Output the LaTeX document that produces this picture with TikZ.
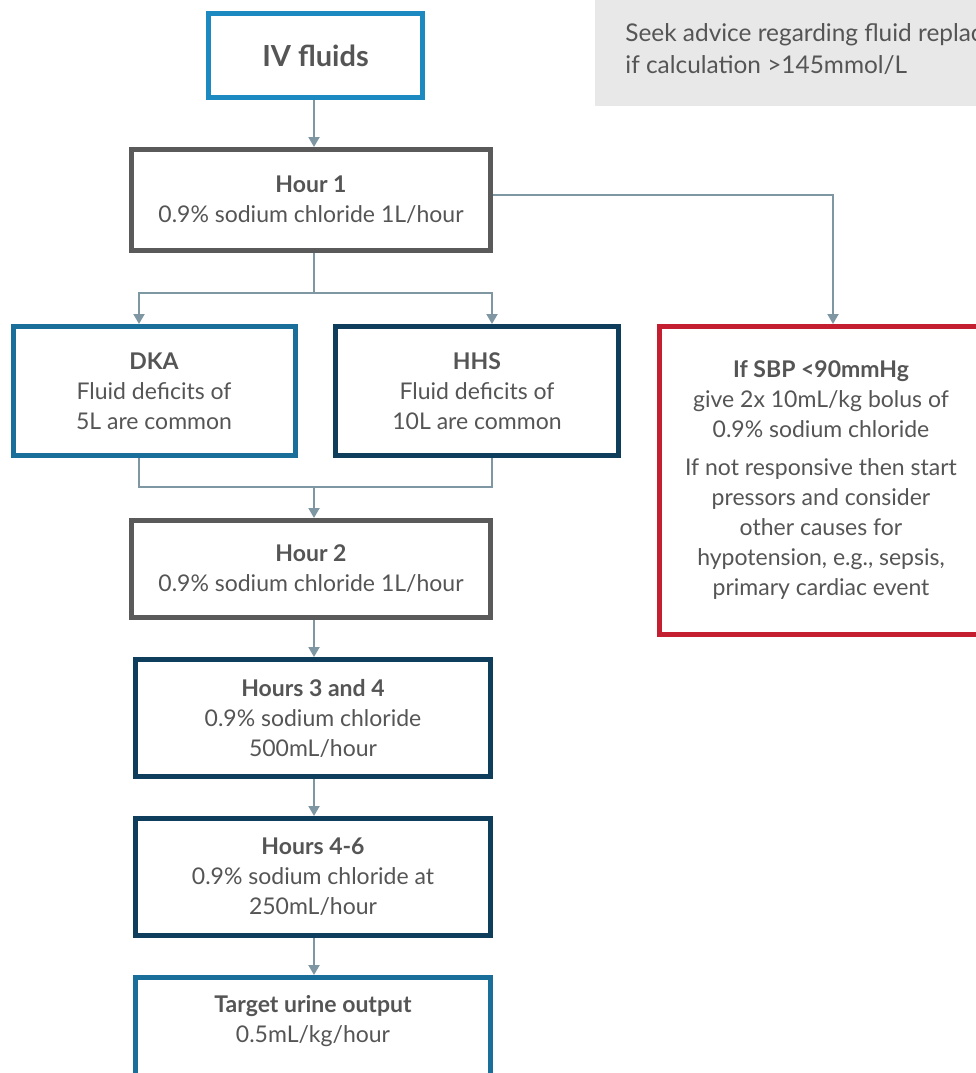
\documentclass[tikz,border=0pt]{standalone}
\usepackage{fontspec}
\setmainfont{Lato}
\usetikzlibrary{arrows.meta}
\definecolor{txt}{HTML}{555555}
\definecolor{conn}{HTML}{7F97A3}
\definecolor{bblue}{HTML}{1C8AC1}
\definecolor{mblue}{HTML}{1A6E9A}
\definecolor{navy}{HTML}{0F3D5C}
\definecolor{dgrey}{HTML}{5A5A5A}
\definecolor{redb}{HTML}{C41F30}
\definecolor{lgrey}{HTML}{E8E8E8}
\begin{document}
\begin{tikzpicture}[x=0.5pt,y=-0.5pt,
  box/.style={draw, line width=2.5pt, fill=white, align=center, text=txt, inner sep=0pt,
    font=\fontsize{11.5}{15}\selectfont},
  plain/.style={align=center, text=txt, inner sep=0pt, font=\fontsize{11.5}{15}\selectfont},
  link/.style={draw=conn, line width=1pt},
  arr/.style={link, -{Triangle[width=5.5pt,length=5pt]}}]
\useasboundingbox (0,0) rectangle (976,1073);
\clip (0,0) rectangle (976,1073);
% grey note
\node[fill=lgrey, minimum width=195pt, minimum height=53pt, inner sep=0pt, anchor=north west] (note) at (595,0) {};
\node[plain, align=left, anchor=north west, font=\fontsize{12.2}{16}\selectfont] (notetxt) at (625,23) {Seek advice regarding fluid replacement\\if calculation >145mmol/L};
% boxes
\node[box, draw=bblue, minimum width=107pt, minimum height=42pt, font=\fontsize{14.5}{16}\selectfont\bfseries] (iv) at (315.5,55.5) {IV fluids};
\node[box, draw=dgrey, minimum width=179.5pt, minimum height=50.5pt] (h1) at (311,200) {\textbf{Hour 1}\\0.9\% sodium chloride 1L/hour};
\node[box, draw=mblue, minimum width=141pt, minimum height=64.5pt] (dka) at (154,391) {\textbf{DKA}\\Fluid deficits of\\5L are common};
\node[box, draw=navy, minimum width=141.5pt, minimum height=64.5pt] (hhs) at (477,391) {\textbf{HHS}\\Fluid deficits of\\10L are common};
\node[box, draw=redb, minimum width=161.5pt, minimum height=154pt] (red) at (821,480.5) {\textbf{If SBP <90mmHg}\\give 2x 10mL/kg bolus of\\0.9\% sodium chloride\\[4pt]If not responsive then start\\pressors and consider\\other causes for\\hypotension, e.g., sepsis,\\primary cardiac event};
\node[box, draw=dgrey, minimum width=179.5pt, minimum height=48.5pt] (h2) at (311,569) {\textbf{Hour 2}\\0.9\% sodium chloride 1L/hour};
\node[box, draw=navy, minimum width=177.5pt, minimum height=58.5pt] (h34) at (313,718) {\textbf{Hours 3 and 4}\\0.9\% sodium chloride\\500mL/hour};
\node[box, draw=navy, minimum width=177.5pt, minimum height=58.5pt] (h46) at (313,877) {\textbf{Hours 4-6}\\0.9\% sodium chloride at\\250mL/hour};
\node[box, draw=mblue, minimum width=177.5pt, minimum height=52.5pt] (tgt) at (313,1030) {};
\node[plain] (tgttxt) at (313,1021) {\textbf{Target urine output}\\0.5mL/kg/hour};
% connectors
\coordinate (xm) at (314,0);
\coordinate (xl) at (139,0);
\coordinate (xr) at (492,0);
\coordinate (xred) at (833,0);
\coordinate (split) at (314,293);
\coordinate (join) at (314,487);
\draw[arr] (xm |- iv.south) -- (xm |- h1.north);
\draw[link] (xm |- h1.south) -- (split);
\draw[arr] (split) -| (xl |- dka.north);
\draw[arr] (split) -| (xr |- hhs.north);
\draw[arr] ([yshift=2.5pt]h1.east) -| (xred |- red.north);
\draw[link] (xl |- dka.south) |- (join);
\draw[link] (xr |- hhs.south) |- (join);
\draw[arr] (join) -- (xm |- h2.north);
\draw[arr] (xm |- h2.south) -- (xm |- h34.north);
\draw[arr] (xm |- h34.south) -- (xm |- h46.north);
\draw[arr] (xm |- h46.south) -- (xm |- tgt.north);
\end{tikzpicture}
\end{document}
